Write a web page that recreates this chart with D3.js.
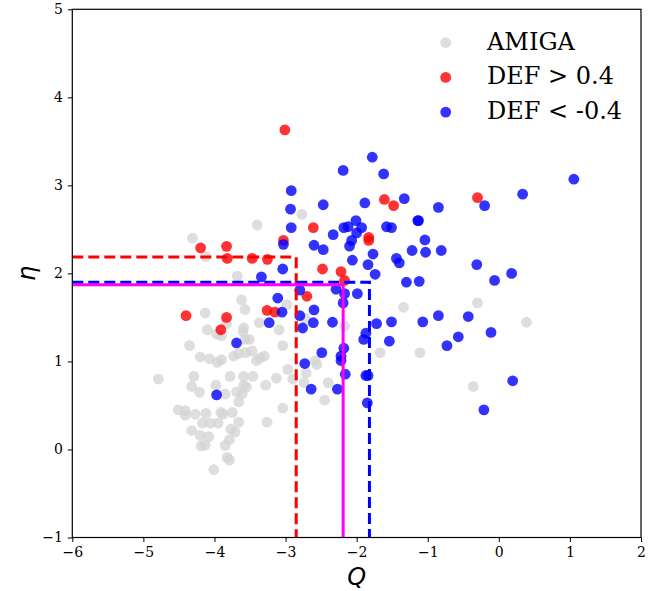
<!DOCTYPE html>
<html>
<head>
<meta charset="utf-8">
<script src="https://cdn.jsdelivr.net/npm/d3@7"></script>
<style>
  html, body { margin: 0; padding: 0; background: #fff; }
  svg { display: block; }
</style>
</head>
<body>
<svg id="chart" width="664" height="591"></svg>
<script>
// ---- data: [Q, eta] ----
const amiga = [
  [-4.31,2.40],[-3.40,2.55],[-2.77,2.67],[-4.12,2.19],[-3.68,1.97],[-3.62,1.70],[-3.57,1.59],
  [-4.13,1.55],[-3.83,1.43],[-4.10,1.36],[-3.97,1.31],[-3.90,1.29],[-3.59,1.38],[-3.60,1.34],
  [-3.57,1.25],[-3.51,1.25],[-3.37,1.44],[-2.98,1.645],[-3.04,1.18],[-4.35,1.18],[-4.20,1.05],
  [-4.07,1.03],[-3.96,0.99],[-3.90,1.02],[-3.73,1.06],[-3.66,1.09],[-3.56,1.10],[-3.47,1.12],
  [-3.41,1.01],[-3.36,1.04],[-3.30,1.06],[-2.97,0.91],[-4.29,0.83],[-3.78,0.83],[-3.59,0.83],
  [-3.46,0.83],[-3.13,0.81],[-2.58,1.01],[-2.56,0.965],[-2.71,0.87],[-3.09,1.36],[-2.17,1.40],
  [-2.90,0.80],[-2.40,0.76],[-2.45,0.56],[-4.79,0.80],[-4.32,0.715],[-4.21,0.65],[-3.98,0.73],
  [-3.85,0.63],[-3.69,0.655],[-3.61,0.635],[-3.59,0.73],[-3.55,0.71],[-3.66,0.54],[-3.28,0.73],
  [-3.04,0.47],[-3.26,0.31],[-4.51,0.45],[-4.41,0.44],[-4.41,0.39],[-4.27,0.40],[-4.12,0.41],
  [-3.91,0.42],[-3.88,0.40],[-3.75,0.42],[-4.17,0.30],[-4.06,0.30],[-3.95,0.30],[-3.66,0.31],
  [-4.32,0.215],[-4.20,0.16],[-4.08,0.145],[-3.77,0.23],[-3.71,0.20],[-3.79,0.11],[-4.19,0.04],
  [-4.13,0.05],[-3.85,0.045],[-3.82,-0.09],[-3.79,-0.12],[-4.01,-0.23],[-2.74,0.76],
  [-1.34,1.615],[-0.30,1.665],[0.39,1.445],[-1.67,1.10],[-1.11,1.10],[-0.36,0.715],[-2.72,1.49]
];
const defHigh = [
  [-3.01,3.63],[-2.61,2.52],[-3.03,2.375],[-4.195,2.29],[-3.83,2.307],[-3.82,2.17],[-3.47,2.17],
  [-3.255,2.16],[-2.48,2.05],[-2.22,2.02],[-2.17,1.92],[-2.70,1.74],[-3.26,1.58],[-3.15,1.56],
  [-4.40,1.52],[-3.83,1.50],[-3.91,1.36],[-1.61,2.84],[-1.48,2.77],[-1.83,2.41],[-1.83,2.375],
  [-0.30,2.86]
];
const defLow = [
  [-2.19,3.17],[-2.92,2.94],[-2.93,2.73],[-2.47,2.78],[-2.92,2.52],[-2.18,2.52],[-2.12,2.53],
  [-2.01,2.60],[-2.33,2.44],[-2.07,2.375],[-2.00,2.46],[-2.10,2.31],[-3.03,2.33],[-2.60,2.32],
  [-2.47,2.27],[-2.06,2.15],[-3.04,2.05],[-3.34,1.96],[-1.78,3.32],[-1.62,3.13],[-1.885,2.80],
  [-1.33,2.85],[-0.85,2.75],[-1.14,2.60],[-1.13,2.60],[-1.93,2.52],[-1.58,2.53],[-1.51,2.52],
  [-1.04,2.38],[-1.22,2.26],[-1.03,2.24],[-0.81,2.26],[-1.77,2.22],[-1.84,2.10],[-1.44,2.17],
  [-1.40,2.12],[-1.74,1.99],[-1.30,1.90],[-1.12,1.91],[-0.20,2.77],[0.335,2.90],[1.055,3.07],
  [-0.31,2.10],[0.18,2.00],[-0.06,1.92],[-2.17,1.77],[-1.99,1.77],[-2.19,1.665],[-1.72,1.43],
  [-1.51,1.45],[-1.07,1.45],[-0.85,1.52],[-0.43,1.51],[-0.11,1.33],[-0.57,1.28],[-0.73,1.18],
  [-1.87,1.32],[-1.90,1.25],[-1.54,1.23],[-2.18,1.15],[-2.22,1.06],[-2.22,1.01],[-2.16,0.855],
  [-1.87,0.84],[-1.84,0.84],[0.195,0.78],[-2.27,0.685],[-1.85,0.53],[-0.21,0.45],[-2.80,1.81],
  [-2.29,1.82],[-3.11,1.72],[-2.60,1.585],[-3.05,1.56],[-2.80,1.52],[-3.23,1.44],[-2.76,1.38],
  [-2.61,1.44],[-2.34,1.445],[-3.69,1.21],[-2.49,1.10],[-2.73,0.976],[-2.64,0.685],[-3.97,0.62]
];
// threshold corners [Q, eta]
const thrRed = [-2.85, 2.185];
const thrBlue = [-1.82, 1.90];
const thrMagenta = [-2.19, 1.87];

const xTicks = [-6,-5,-4,-3,-2,-1,0,1,2];
const yTicks = [-1,0,1,2,3,4,5];
const legendLabels = ["AMIGA", "DEF > 0.4", "DEF < -0.4"];

// ---- layout ----
const L = 72.3, R = 641, T = 9.3, B = 537.5;
const svg = d3.select("#chart");
const x = d3.scaleLinear().domain([-6, 2]).range([L, R]);
const y = d3.scaleLinear().domain([-1, 5]).range([B, T]);

const cRed = "#ff0000", cBlue = "#0000ff", cGray = "#d3d3d3";
const rad = 5.4;

const plot = svg.append("g");

function scatter(data, color, op) {
  plot.append("g").selectAll("circle").data(data).join("circle")
    .attr("cx", d => x(d[0])).attr("cy", d => y(d[1])).attr("r", rad)
    .attr("fill", color).attr("fill-opacity", op);
}
scatter(amiga, cGray, 0.75);
scatter(defHigh, cRed, 0.8);
scatter(defLow, cBlue, 0.8);

// threshold lines (drawn above points)
const line = d3.line().x(d => x(d[0])).y(d => y(d[1]));
function thr(c, color, dash) {
  plot.append("path")
    .attr("d", line([[-6, c[1]], [c[0], c[1]], [c[0], -1]]))
    .attr("fill", "none").attr("stroke", color).attr("stroke-width", 3)
    .attr("stroke-dasharray", dash);
}
thr(thrRed, cRed, "11,5");
thr(thrBlue, cBlue, "11,5");
thr(thrMagenta, "#ff00ff", null);

// axes
const fontTick = "'DejaVu Serif', serif";
const xAxis = d3.axisBottom(x).tickValues(xTicks).tickSize(4.5).tickPadding(5)
  .tickFormat(d => d < 0 ? "\u2212" + Math.abs(d) : String(d));
const yAxis = d3.axisLeft(y).tickValues(yTicks).tickSize(4.5).tickPadding(5)
  .tickFormat(d => d < 0 ? "\u2212" + Math.abs(d) : String(d));

const gx = svg.append("g").attr("transform", `translate(0,${B})`).call(xAxis);
const gy = svg.append("g").attr("transform", `translate(${L},0)`).call(yAxis);
[gx, gy].forEach(g => {
  g.select(".domain").remove();
  g.selectAll(".tick line").attr("stroke", "#000").attr("stroke-width", 1);
  g.selectAll(".tick text").attr("fill", "#000").style("font-family", fontTick).style("font-size", "14px");
});

// frame
svg.append("rect").attr("x", L).attr("y", T).attr("width", R - L).attr("height", B - T)
  .attr("fill", "none").attr("stroke", "#000").attr("stroke-width", 1.2);

// axis labels
svg.append("text").attr("x", (L + R) / 2).attr("y", 585).attr("text-anchor", "middle")
  .style("font-family", "'DejaVu Sans', sans-serif").style("font-style", "italic")
  .style("font-size", "24px").text("Q");
svg.append("text").attr("transform", `translate(35,${(T + B) / 2}) rotate(-90)`)
  .attr("text-anchor", "middle")
  .style("font-family", "'DejaVu Sans', sans-serif").style("font-style", "italic")
  .style("font-size", "24px").text("η");

// legend
const legColors = [[cGray, 0.75], [cRed, 0.8], [cBlue, 0.8]];
const leg = svg.append("g");
legendLabels.forEach((lab, i) => {
  const cy = 42.7 + i * 34.7;
  leg.append("circle").attr("cx", 445.7).attr("cy", cy).attr("r", rad)
    .attr("fill", legColors[i][0]).attr("fill-opacity", legColors[i][1]);
  leg.append("text").attr("x", 487).attr("y", cy + 6.8)
    .style("font-family", fontTick).style("font-size", "24px").attr("fill", "#000").text(lab);
});
</script>
</body>
</html>
